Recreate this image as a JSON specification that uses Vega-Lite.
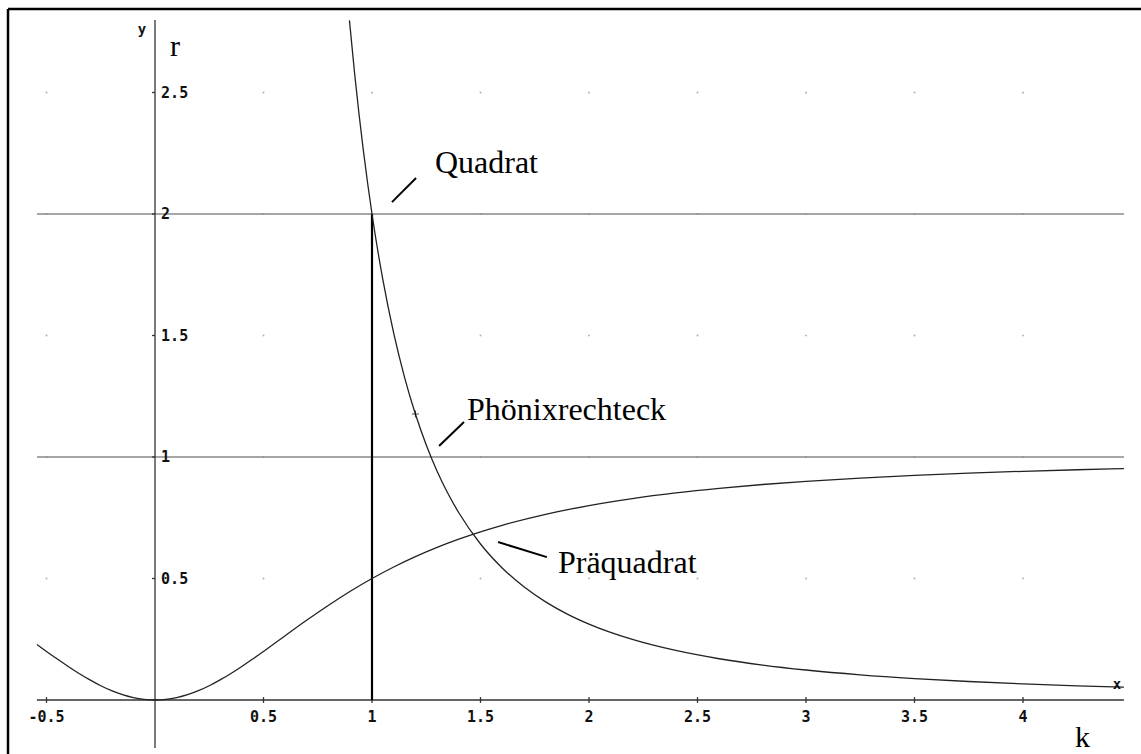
{
  "$schema": "https://vega.github.io/schema/vega-lite/v6.json",
  "width": 1141,
  "height": 754,
  "autosize": {"type": "fit", "contains": "padding"},
  "padding": 0,
  "background": "white",
  "config": {"view": {"stroke": null}},
  "datasets": {
    "dots": [
      {"x": -0.5, "y": 0.5}, {"x": -0.5, "y": 1}, {"x": -0.5, "y": 1.5}, {"x": -0.5, "y": 2}, {"x": -0.5, "y": 2.5},
      {"x": 0.5, "y": 0.5}, {"x": 0.5, "y": 1}, {"x": 0.5, "y": 1.5}, {"x": 0.5, "y": 2}, {"x": 0.5, "y": 2.5},
      {"x": 1, "y": 0.5}, {"x": 1, "y": 1}, {"x": 1, "y": 1.5}, {"x": 1, "y": 2}, {"x": 1, "y": 2.5},
      {"x": 1.5, "y": 0.5}, {"x": 1.5, "y": 1}, {"x": 1.5, "y": 1.5}, {"x": 1.5, "y": 2}, {"x": 1.5, "y": 2.5},
      {"x": 2, "y": 0.5}, {"x": 2, "y": 1}, {"x": 2, "y": 1.5}, {"x": 2, "y": 2}, {"x": 2, "y": 2.5},
      {"x": 2.5, "y": 0.5}, {"x": 2.5, "y": 1}, {"x": 2.5, "y": 1.5}, {"x": 2.5, "y": 2}, {"x": 2.5, "y": 2.5},
      {"x": 3, "y": 0.5}, {"x": 3, "y": 1}, {"x": 3, "y": 1.5}, {"x": 3, "y": 2}, {"x": 3, "y": 2.5},
      {"x": 3.5, "y": 0.5}, {"x": 3.5, "y": 1}, {"x": 3.5, "y": 1.5}, {"x": 3.5, "y": 2}, {"x": 3.5, "y": 2.5},
      {"x": 4, "y": 0.5}, {"x": 4, "y": 1}, {"x": 4, "y": 1.5}, {"x": 4, "y": 2}, {"x": 4, "y": 2.5}
    ],
    "hlines": [
      {"x": -0.544, "x2": 4.465, "y": 1, "y2": 1},
      {"x": -0.544, "x2": 4.465, "y": 2, "y2": 2}
    ],
    "axes": [
      {"x": -0.544, "x2": 4.465, "y": 0, "y2": 0},
      {"x": 0, "x2": 0, "y": -0.198, "y2": 2.798}
    ],
    "ticks": [
      {"x": -0.5, "x2": -0.5, "y": -0.012, "y2": 0.012},
      {"x": 0.5, "x2": 0.5, "y": -0.012, "y2": 0.012},
      {"x": 1, "x2": 1, "y": -0.012, "y2": 0.012},
      {"x": 1.5, "x2": 1.5, "y": -0.012, "y2": 0.012},
      {"x": 2, "x2": 2, "y": -0.012, "y2": 0.012},
      {"x": 2.5, "x2": 2.5, "y": -0.012, "y2": 0.012},
      {"x": 3, "x2": 3, "y": -0.012, "y2": 0.012},
      {"x": 3.5, "x2": 3.5, "y": -0.012, "y2": 0.012},
      {"x": 4, "x2": 4, "y": -0.012, "y2": 0.012},
      {"x": -0.014, "x2": 0, "y": 0.5, "y2": 0.5},
      {"x": -0.014, "x2": 0, "y": 1, "y2": 1},
      {"x": -0.014, "x2": 0, "y": 1.5, "y2": 1.5},
      {"x": -0.014, "x2": 0, "y": 2, "y2": 2},
      {"x": -0.014, "x2": 0, "y": 2.5, "y2": 2.5}
    ],
    "vline": [
      {"x": 1, "x2": 1, "y": 0, "y2": 2}
    ],
    "pointers": [
      {"x": 1.092, "x2": 1.203, "y": 2.049, "y2": 2.148},
      {"x": 1.309, "x2": 1.424, "y": 1.045, "y2": 1.144},
      {"x": 1.581, "x2": 1.806, "y": 0.65, "y2": 0.588}
    ],
    "frame": [
      {"x": -0.6774, "x2": 4.6, "y": 2.8436, "y2": 2.8436},
      {"x": -0.6774, "x2": -0.6774, "y": 2.8436, "y2": -0.3}
    ],
    "curves": [
      {"series": "A", "x": 0.896, "y": 2.797},
      {"series": "A", "x": 0.92, "y": 2.577},
      {"series": "A", "x": 0.94, "y": 2.4127},
      {"series": "A", "x": 0.96, "y": 2.2626},
      {"series": "A", "x": 0.98, "y": 2.1254},
      {"series": "A", "x": 1.0, "y": 2.0},
      {"series": "A", "x": 1.05, "y": 1.7297},
      {"series": "A", "x": 1.1, "y": 1.5095},
      {"series": "A", "x": 1.15, "y": 1.3279},
      {"series": "A", "x": 1.2, "y": 1.1767},
      {"series": "A", "x": 1.25, "y": 1.0496},
      {"series": "A", "x": 1.3, "y": 0.9418},
      {"series": "A", "x": 1.35, "y": 0.8498},
      {"series": "A", "x": 1.4, "y": 0.7705},
      {"series": "A", "x": 1.5, "y": 0.642},
      {"series": "A", "x": 1.6, "y": 0.5432},
      {"series": "A", "x": 1.7, "y": 0.4658},
      {"series": "A", "x": 1.8, "y": 0.4039},
      {"series": "A", "x": 1.9, "y": 0.3537},
      {"series": "A", "x": 2.0, "y": 0.3125},
      {"series": "A", "x": 2.2, "y": 0.2493},
      {"series": "A", "x": 2.4, "y": 0.2038},
      {"series": "A", "x": 2.6, "y": 0.1698},
      {"series": "A", "x": 2.8, "y": 0.1438},
      {"series": "A", "x": 3.0, "y": 0.1235},
      {"series": "A", "x": 3.25, "y": 0.1036},
      {"series": "A", "x": 3.5, "y": 0.0883},
      {"series": "A", "x": 3.75, "y": 0.0762},
      {"series": "A", "x": 4.0, "y": 0.0664},
      {"series": "A", "x": 4.25, "y": 0.0584},
      {"series": "A", "x": 4.465, "y": 0.0527},
      {"series": "B", "x": -0.544, "y": 0.2284},
      {"series": "B", "x": -0.5, "y": 0.2},
      {"series": "B", "x": -0.45, "y": 0.1684},
      {"series": "B", "x": -0.4, "y": 0.1379},
      {"series": "B", "x": -0.35, "y": 0.1091},
      {"series": "B", "x": -0.3, "y": 0.0826},
      {"series": "B", "x": -0.25, "y": 0.0588},
      {"series": "B", "x": -0.2, "y": 0.0385},
      {"series": "B", "x": -0.15, "y": 0.022},
      {"series": "B", "x": -0.1, "y": 0.0099},
      {"series": "B", "x": -0.05, "y": 0.0025},
      {"series": "B", "x": 0, "y": 0},
      {"series": "B", "x": 0.05, "y": 0.0025},
      {"series": "B", "x": 0.1, "y": 0.0099},
      {"series": "B", "x": 0.15, "y": 0.022},
      {"series": "B", "x": 0.2, "y": 0.0385},
      {"series": "B", "x": 0.25, "y": 0.0588},
      {"series": "B", "x": 0.3, "y": 0.0826},
      {"series": "B", "x": 0.35, "y": 0.1091},
      {"series": "B", "x": 0.4, "y": 0.1379},
      {"series": "B", "x": 0.45, "y": 0.1684},
      {"series": "B", "x": 0.5, "y": 0.2},
      {"series": "B", "x": 0.6, "y": 0.2647},
      {"series": "B", "x": 0.7, "y": 0.3289},
      {"series": "B", "x": 0.8, "y": 0.3902},
      {"series": "B", "x": 0.9, "y": 0.4475},
      {"series": "B", "x": 1.0, "y": 0.5},
      {"series": "B", "x": 1.1, "y": 0.5475},
      {"series": "B", "x": 1.2, "y": 0.5902},
      {"series": "B", "x": 1.3, "y": 0.6283},
      {"series": "B", "x": 1.4, "y": 0.6622},
      {"series": "B", "x": 1.5, "y": 0.6923},
      {"series": "B", "x": 1.6, "y": 0.7191},
      {"series": "B", "x": 1.8, "y": 0.7642},
      {"series": "B", "x": 2.0, "y": 0.8},
      {"series": "B", "x": 2.2, "y": 0.8288},
      {"series": "B", "x": 2.4, "y": 0.8521},
      {"series": "B", "x": 2.6, "y": 0.8711},
      {"series": "B", "x": 2.8, "y": 0.8869},
      {"series": "B", "x": 3.0, "y": 0.9},
      {"series": "B", "x": 3.25, "y": 0.9135},
      {"series": "B", "x": 3.5, "y": 0.9245},
      {"series": "B", "x": 3.75, "y": 0.9336},
      {"series": "B", "x": 4.0, "y": 0.9412},
      {"series": "B", "x": 4.25, "y": 0.9475},
      {"series": "B", "x": 4.465, "y": 0.9522}
    ],
    "marker": [
      {"x": 1.2, "y": 1.177}
    ],
    "xlabels": [
      {"x": -0.5, "y": -0.068, "label": "-0.5"},
      {"x": 0.5, "y": -0.068, "label": "0.5"},
      {"x": 1, "y": -0.068, "label": "1"},
      {"x": 1.5, "y": -0.068, "label": "1.5"},
      {"x": 2, "y": -0.068, "label": "2"},
      {"x": 2.5, "y": -0.068, "label": "2.5"},
      {"x": 3, "y": -0.068, "label": "3"},
      {"x": 3.5, "y": -0.068, "label": "3.5"},
      {"x": 4, "y": -0.068, "label": "4"}
    ],
    "ylabels": [
      {"x": 0.028, "y": 0.5, "label": "0.5"},
      {"x": 0.028, "y": 1, "label": "1"},
      {"x": 0.028, "y": 1.5, "label": "1.5"},
      {"x": 0.028, "y": 2, "label": "2"},
      {"x": 0.028, "y": 2.5, "label": "2.5"}
    ],
    "axisnames": [
      {"x": -0.06, "y": 2.757, "label": "y"},
      {"x": 4.433, "y": 0.062, "label": "x"}
    ],
    "varnames": [
      {"x": 0.069, "y": 2.65, "label": "r"},
      {"x": 4.24, "y": -0.193, "label": "k"}
    ],
    "annotations": [
      {"x": 1.29, "y": 2.169, "label": "Quadrat"},
      {"x": 1.438, "y": 1.152, "label": "Phönixrechteck"},
      {"x": 1.857, "y": 0.523, "label": "Präquadrat"}
    ]
  },
  "encoding": {
    "x": {"field": "x", "type": "quantitative", "axis": null, "scale": {"domain": [-0.7143, 4.5438], "nice": false, "zero": false}},
    "y": {"field": "y", "type": "quantitative", "axis": null, "scale": {"domain": [-0.2222, 2.8807], "nice": false, "zero": false}}
  },
  "layer": [
    {
      "data": {"name": "dots"},
      "mark": {"type": "point", "shape": "square", "filled": true, "size": 3, "color": "#9a9a9a", "opacity": 0.8}
    },
    {
      "data": {"name": "hlines"},
      "mark": {"type": "rule", "color": "#888888", "strokeWidth": 1.6},
      "encoding": {"x2": {"field": "x2"}, "y2": {"field": "y2"}}
    },
    {
      "data": {"name": "axes"},
      "mark": {"type": "rule", "color": "#333333", "strokeWidth": 1.3},
      "encoding": {"x2": {"field": "x2"}, "y2": {"field": "y2"}}
    },
    {
      "data": {"name": "ticks"},
      "mark": {"type": "rule", "color": "#333333", "strokeWidth": 1.3},
      "encoding": {"x2": {"field": "x2"}, "y2": {"field": "y2"}}
    },
    {
      "data": {"name": "vline"},
      "mark": {"type": "rule", "color": "#000000", "strokeWidth": 2.2},
      "encoding": {"x2": {"field": "x2"}, "y2": {"field": "y2"}}
    },
    {
      "data": {"name": "curves"},
      "mark": {"type": "line", "color": "#222222", "strokeWidth": 1.3, "interpolate": "monotone"},
      "encoding": {"detail": {"field": "series", "type": "nominal"}}
    },
    {
      "data": {"name": "pointers"},
      "mark": {"type": "rule", "color": "#000000", "strokeWidth": 2},
      "encoding": {"x2": {"field": "x2"}, "y2": {"field": "y2"}}
    },
    {
      "data": {"name": "marker"},
      "mark": {"type": "point", "shape": "M-1,0L1,0M0,-1L0,1", "filled": false, "size": 49, "stroke": "#000000", "strokeWidth": 1}
    },
    {
      "data": {"name": "xlabels"},
      "mark": {"type": "text", "font": "DejaVu Sans Mono", "fontWeight": "bold", "fontSize": 15, "align": "center", "baseline": "middle", "color": "#111111"},
      "encoding": {"text": {"field": "label"}}
    },
    {
      "data": {"name": "ylabels"},
      "mark": {"type": "text", "font": "DejaVu Sans Mono", "fontWeight": "bold", "fontSize": 15, "align": "left", "baseline": "middle", "color": "#111111"},
      "encoding": {"text": {"field": "label"}}
    },
    {
      "data": {"name": "axisnames"},
      "mark": {"type": "text", "font": "DejaVu Sans Mono", "fontWeight": "bold", "fontSize": 14, "align": "center", "baseline": "middle", "color": "#111111"},
      "encoding": {"text": {"field": "label"}}
    },
    {
      "data": {"name": "varnames"},
      "mark": {"type": "text", "font": "Liberation Serif", "fontSize": 30, "align": "left", "baseline": "alphabetic", "color": "#000000"},
      "encoding": {"text": {"field": "label"}}
    },
    {
      "data": {"name": "annotations"},
      "mark": {"type": "text", "font": "Liberation Serif", "fontSize": 32, "align": "left", "baseline": "alphabetic", "color": "#000000"},
      "encoding": {"text": {"field": "label"}}
    },
    {
      "data": {"name": "frame"},
      "mark": {"type": "rule", "color": "#000000", "strokeWidth": 2.5, "clip": true},
      "encoding": {"x2": {"field": "x2"}, "y2": {"field": "y2"}}
    }
  ]
}
